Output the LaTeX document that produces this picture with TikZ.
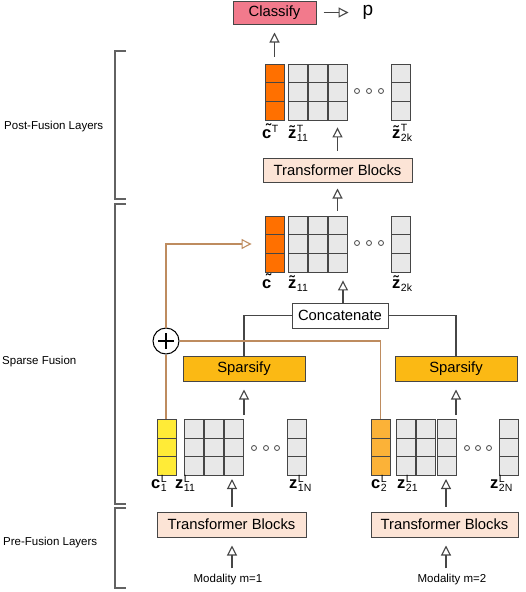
\documentclass[tikz,border=0pt]{standalone}
\usepackage{fontspec}
\setmainfont{Liberation Sans}
\usetikzlibrary{arrows.meta}
\definecolor{cpink}{RGB}{242,122,140}
\definecolor{cpeach}{RGB}{252,228,214}
\definecolor{csparse}{RGB}{251,185,20}
\definecolor{corange}{RGB}{255,112,0}
\definecolor{cyellow}{RGB}{255,235,55}
\definecolor{camber}{RGB}{251,178,56}
\definecolor{cgray}{RGB}{232,232,232}
\definecolor{cline}{RGB}{70,70,70}
\definecolor{cbrown}{RGB}{190,140,95}
\newcommand\basel[1]{{\fontsize{16.5}{16.5}\selectfont\bfseries #1}\kern0.5pt}
\newcommand\supsub[2]{\raisebox{-3.5pt}{\fontsize{10.5}{10.5}\selectfont\begin{tabular}[b]{@{}l@{}}#1\\[-1pt]#2\end{tabular}}}
\newcommand\suponly[1]{\raisebox{6pt}{\fontsize{10.5}{10.5}\selectfont #1}}
\newcommand\subonly[1]{\raisebox{-3.5pt}{\fontsize{10.5}{10.5}\selectfont #1}}
\tikzset{
 box/.style={draw=cline, line width=1pt, inner sep=0pt, font=\fontsize{14.8}{16}\selectfont},
 col/.style={draw=cline, line width=0.9pt, fill=cgray, minimum width=19pt, minimum height=56pt, inner sep=0pt,
   path picture={\draw[cline, line width=0.9pt]
     ([yshift=-18.67pt]path picture bounding box.north west) -- ([yshift=-18.67pt]path picture bounding box.north east)
     ([yshift=18.67pt]path picture bounding box.south west) -- ([yshift=18.67pt]path picture bounding box.south east);}},
 conn/.style={draw=cline, line width=1.1pt},
 arr/.style={conn, -{Triangle[open, length=10pt, width=10pt]}},
 bline/.style={draw=cbrown, line width=1.1pt},
 barr/.style={bline, -{Triangle[open, length=10pt, width=10pt]}},
 dot/.style={circle, draw=cline, line width=0.8pt, minimum size=5pt, inner sep=0pt, fill=white},
 lab/.style={anchor=base west, inner sep=0pt},
 brk/.style={draw=cline!85, line width=1.2pt},
 side/.style={anchor=west, inner sep=0pt, font=\fontsize{11.5}{13}\selectfont},
 modl/.style={inner sep=0pt, font=\fontsize{11.5}{13}\selectfont},
}
\begin{document}
\begin{tikzpicture}[x=1pt,y=-1pt]
\useasboundingbox (0,0) rectangle (526,592);
% side brackets
\draw[brk] (126,51) -- (115,51) -- (115,199) -- (126,199);
\draw[brk] (126,204) -- (115,204) -- (115,504) -- (126,504);
\draw[brk] (126,508) -- (115,508) -- (115,588) -- (126,588);
\node[side] (lpost) at (4,127) {Post-Fusion Layers};
\node[side] (lsparse) at (2,362) {Sparse Fusion};
\node[side] (lpre) at (3,543) {Pre-Fusion Layers};

% top
\node[box, fill=cpink, minimum width=83pt, minimum height=23pt] (cls) at (274.5,12.5) {Classify};
\node[inner sep=0pt, font=\fontsize{19}{19}\selectfont] (p) at (368,12.5) {p};
\draw[arr, shorten <=7pt, shorten >=14pt] (cls.east) -- (cls.east -| p.west);

% post-fusion stack
\node[col, fill=corange] (t0) at (274.5,92) {};
\node[col] (t1) at (297.5,92) {};
\node[col] (t2) at (317.5,92) {};
\node[col] (t3) at (337.5,92) {};
\node[col] (tk) at (400.5,92) {};
\node[dot] (td1) at (357,91) {};
\node[dot] (td2) at (369,91) {};
\node[dot] (td3) at (381,91) {};
\node[lab] (lt0) at (262,138) {\basel{\~{c}}\suponly{T}};
\node[lab] (lt1) at (288,138) {\basel{\~{z}}\supsub{T}{11}};
\node[lab] (ltk) at (392,138) {\basel{\~{z}}\supsub{T}{2k}};
\draw[arr, shorten <=7pt, shorten >=8pt] (t0.north) -- (cls.south);

\node[box, fill=cpeach, minimum width=149pt, minimum height=24pt] (ptb) at (337.5,170) {Transformer Blocks};
\draw[arr, shorten <=7pt, shorten >=7pt] (ptb.north) -- (t3.south);

% fused stack
\node[col, fill=corange] (m0) at (274.5,244) {};
\node[col] (m1) at (297.5,244) {};
\node[col] (m2) at (317.5,244) {};
\node[col] (m3) at (337.5,244) {};
\node[col] (mk) at (400.5,244) {};
\node[dot] (md1) at (357,243) {};
\node[dot] (md2) at (369,243) {};
\node[dot] (md3) at (381,243) {};
\node[lab] (lm0) at (262,288) {\basel{\~{c}}};
\node[lab] (lm1) at (288,288) {\basel{\~{z}}\subonly{11}};
\node[lab] (lmk) at (392,288) {\basel{\~{z}}\subonly{2k}};
\draw[arr, shorten <=5pt, shorten >=6pt] (m3.north) -- (ptb.south);

\node[box, fill=white, minimum width=96pt, minimum height=25pt] (cat) at (340,315.5) {Concatenate};
\draw[arr, shorten >=8pt] ([xshift=3pt]cat.north) -- ([xshift=3pt]cat.north |- m3.south);

% sparsify
\node[box, fill=csparse, minimum width=122pt, minimum height=25pt] (sp1) at (244,368.5) {Sparsify};
\node[box, fill=csparse, minimum width=122pt, minimum height=25pt] (sp2) at (456,368.5) {Sparsify};
\draw[conn] (cat.west) -| (sp1.north);
\draw[conn] (cat.east) -| (sp2.north);

% modality 1 stack
\node[col, fill=cyellow] (b0) at (166.5,447.5) {};
\node[col] (b1) at (193.5,447.5) {};
\node[col] (b2) at (213.5,447.5) {};
\node[col] (b3) at (233.5,447.5) {};
\node[col] (bN) at (296.5,447.5) {};
\node[dot] (bd1) at (254,448) {};
\node[dot] (bd2) at (266,448) {};
\node[dot] (bd3) at (277,448) {};
\draw[arr, shorten <=4pt, shorten >=8pt] (sp1.south |- b3.north) -- (sp1.south);

% modality 2 stack
\node[col, fill=camber] (c2) at (380.5,447.5) {};
\node[col] (r1) at (405.5,447.5) {};
\node[col] (r2) at (426,447.5) {};
\node[col] (r3) at (446.5,447.5) {};
\node[col] (rN) at (508.5,447.5) {};
\node[dot] (rd1) at (467,448) {};
\node[dot] (rd2) at (478,448) {};
\node[dot] (rd3) at (489,448) {};
\draw[arr, shorten <=4pt, shorten >=8pt] (sp2.south |- r3.north) -- (sp2.south);

% bottom labels
\node[lab] (lb0) at (151,488) {\basel{c}\supsub{L}{1}};
\node[lab] (lb1) at (175,488) {\basel{z}\supsub{L}{11}};
\node[lab] (lbN) at (289,488) {\basel{z}\supsub{L}{1N}};
\node[lab] (lc2) at (371,488) {\basel{c}\supsub{L}{2}};
\node[lab] (lr1) at (397,488) {\basel{z}\supsub{L}{21}};
\node[lab] (lrN) at (490,488) {\basel{z}\supsub{L}{2N}};

% pre-fusion
\node[box, fill=cpeach, minimum width=149pt, minimum height=25pt] (tb1) at (231.5,524.5) {Transformer Blocks};
\node[box, fill=cpeach, minimum width=147pt, minimum height=25pt] (tb2) at (444.5,524.5) {Transformer Blocks};
\coordinate (a1) at (232,479);
\coordinate (a2) at (446,479);
\draw[arr, shorten <=5pt] (a1 |- tb1.north) -- (a1);
\draw[arr, shorten <=5pt] (a2 |- tb2.north) -- (a2);
\node[modl] (mod1) at (228,580) {Modality m=1};
\node[modl] (mod2) at (452,580) {Modality m=2};
\draw[arr, shorten <=6pt, shorten >=8pt] (a1 |- mod1.north) -- (a1 |- tb1.south);
\draw[arr, shorten <=6pt, shorten >=8pt] (a2 |- mod2.north) -- (a2 |- tb2.south);

% fusion of c tokens
\node[circle, draw=black, line width=1pt, minimum size=26pt, inner sep=0pt, fill=white] (plus) at (166,341) {};
\draw[line width=2.6pt] ([xshift=-8pt]plus.center) -- ([xshift=8pt]plus.center)
  ([yshift=-8pt]plus.center) -- ([yshift=8pt]plus.center);
\draw[bline] (plus.south |- b0.north) -- (plus.south);
\draw[barr, shorten >=13pt] (plus.north) |- (m0.west);
\draw[bline] (plus.east) -| (c2.north);
\end{tikzpicture}
\end{document}
